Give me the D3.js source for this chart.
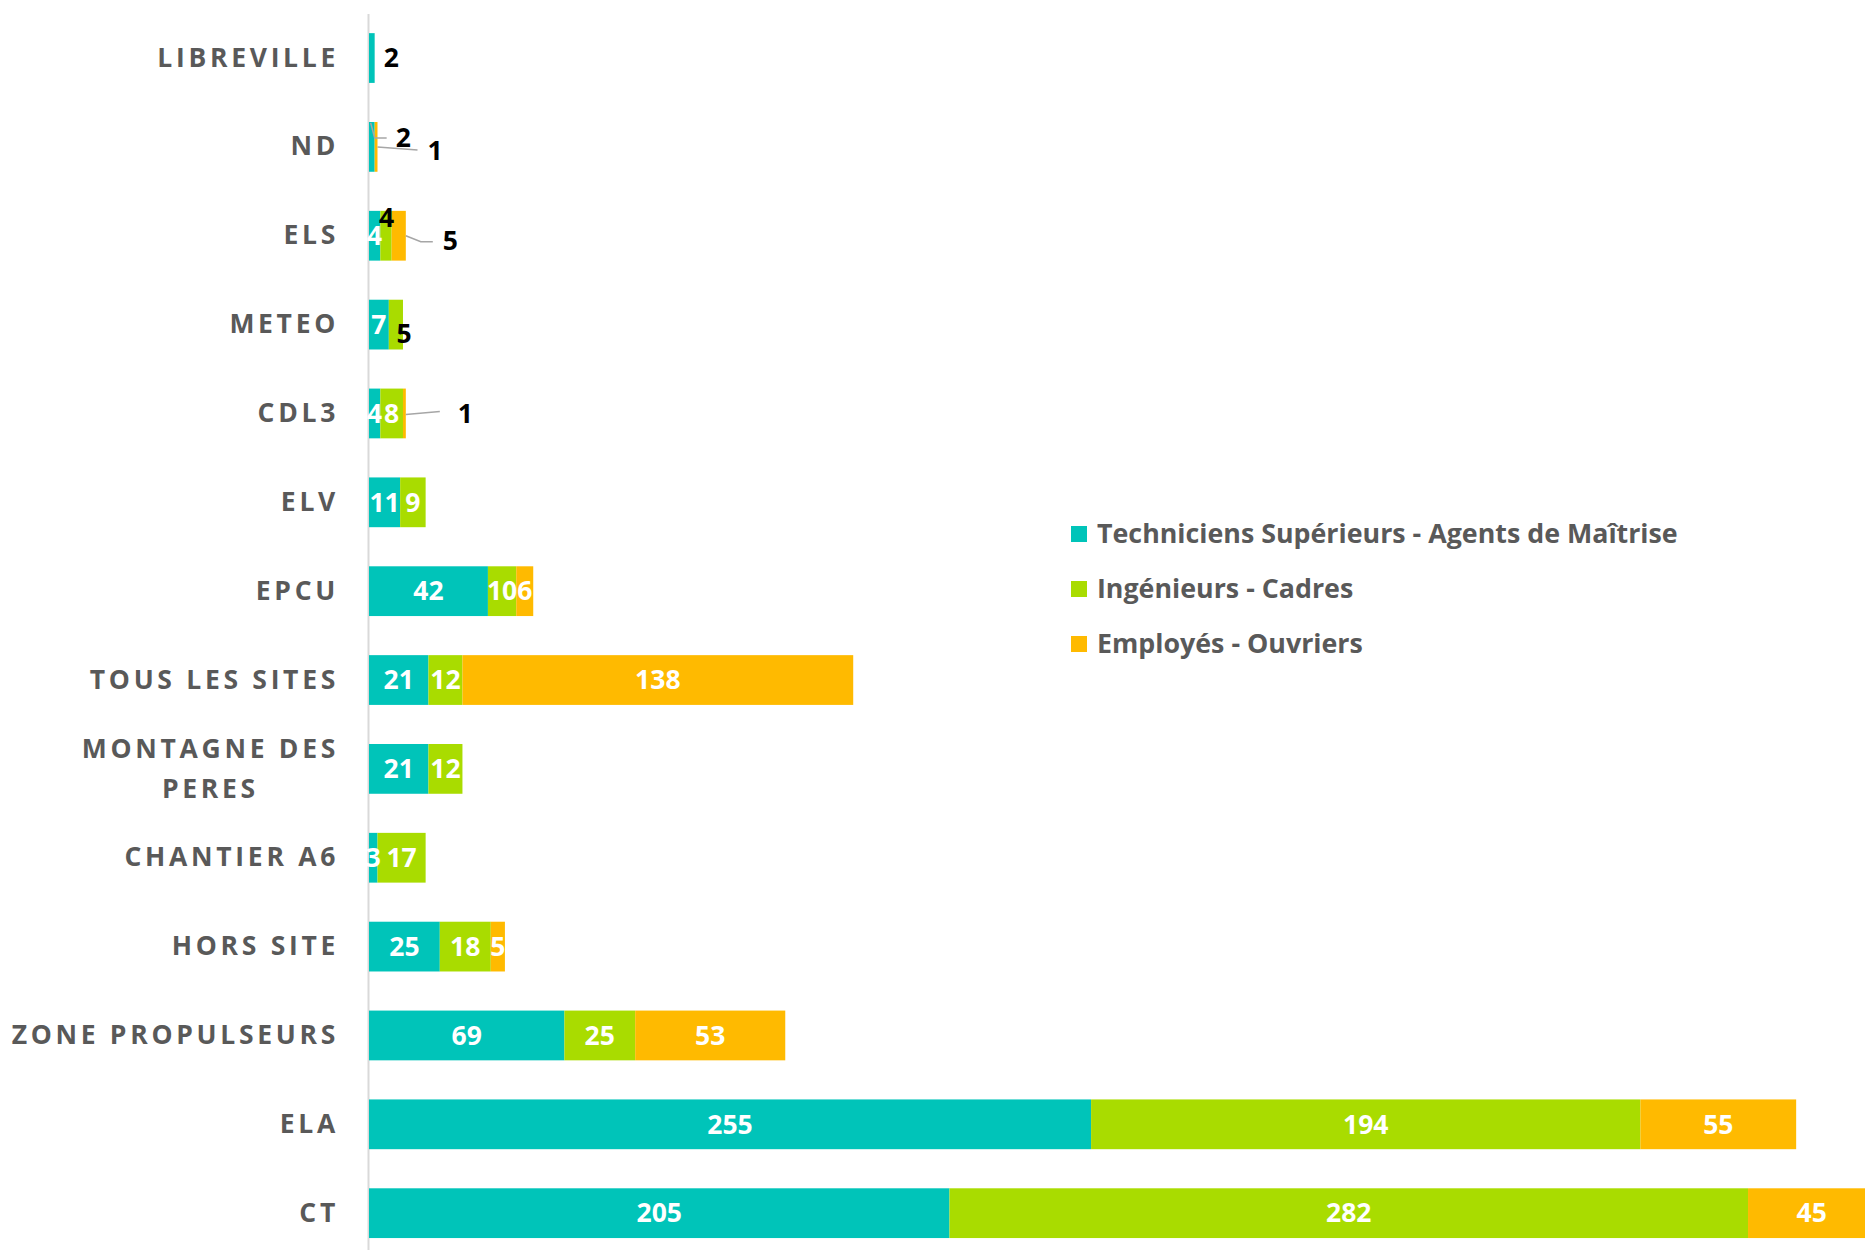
<!DOCTYPE html>
<html>
<head>
<meta charset="utf-8">
<script src="https://cdn.jsdelivr.net/npm/d3@7"></script>
<style>
  html, body { margin: 0; padding: 0; background: #fff; }
  svg { display: block; font-family: 'Open Sans', sans-serif; }
</style>
</head>
<body>
<svg id="chart" width="1865" height="1250"></svg>
<script>
const categories = ['LIBREVILLE', 'ND', 'ELS', 'METEO', 'CDL3', 'ELV', 'EPCU', 'TOUS LES SITES',
  'MONTAGNE DES PERES', 'CHANTIER A6', 'HORS SITE', 'ZONE PROPULSEURS', 'ELA', 'CT'];
const techniciens = [2, 2, 4, 7, 4, 11, 42, 21, 21, 3, 25, 69, 255, 205];
const ingenieurs = [0, 0, 4, 5, 8, 9, 10, 12, 12, 17, 18, 25, 194, 282];
const employes = [0, 1, 5, 0, 1, 0, 6, 138, 0, 0, 5, 53, 55, 45];
const seriesNames = ['Techniciens Supérieurs - Agents de Maîtrise', 'Ingénieurs - Cadres', 'Employés - Ouvriers'];
const colors = ['#00c4b9', '#a9dc00', '#ffba00'];

// labels that sit outside the bar, with optional leader line (offsets from the segment end)
const callouts = {
  'LIBREVILLE|0': { dx: 9, dy: 0 },
  'ND|0': { dx: 21, dy: -9, leader: [[-4, -24], [0, -9], [12, -9]] },
  'ND|2': { dx: 50, dy: 4, leader: [[0, 0], [40, 3]] },
  'ELS|1': { dx: -5, dy: -18, anchor: 'middle' },
  'ELS|2': { dx: 37, dy: 5, leader: [[0, 0], [15, 6], [27, 6]] },
  'METEO|1': { dx: 1, dy: 9, anchor: 'middle' },
  'CDL3|2': { dx: 52, dy: 0, leader: [[0, 1], [34, -2]] }
};

const rows = categories.map((c, i) => ({ cat: c, s0: techniciens[i], s1: ingenieurs[i], s2: employes[i] }));
const stack = d3.stack().keys(['s0', 's1', 's2'])(rows);

const svg = d3.select('#chart');

const x = d3.scaleLinear().domain([0, 600]).range([369, 2068]);
const y = d3.scaleBand().domain(categories).range([13.6, 1257.6])
  .paddingInner(0.44).paddingOuter(0.22);

// axis
const axis = svg.append('g')
  .attr('transform', 'translate(368,0)')
  .call(d3.axisLeft(y).tickSize(0).tickSizeOuter(0).tickPadding(29));
axis.select('.domain').attr('stroke', '#d9d9d9').attr('stroke-width', 2);
axis.selectAll('.tick text')
  .attr('fill', '#595959')
  .attr('font-size', 26.5)
  .attr('font-weight', 700)
  .attr('font-family', "'Open Sans', sans-serif")
  .style('letter-spacing', '3.7px')
  .each(function(d) {
    if (d === 'MONTAGNE DES PERES') {
      const t = d3.select(this);
      const xEnd = +t.attr('x');
      t.text(null);
      const l1 = t.append('tspan').attr('x', xEnd).attr('dy', '-0.4em').text('MONTAGNE DES');
      const w = l1.node().getComputedTextLength();
      t.append('tspan').attr('x', xEnd - w / 2).attr('dy', '1.5em')
        .attr('text-anchor', 'middle').text('PERES');
    }
  });

// bars
const layer = svg.append('g').selectAll('g')
  .data(stack)
  .join('g')
  .attr('fill', (d, i) => colors[i]);

layer.selectAll('rect')
  .data(d => d)
  .join('rect')
  .attr('x', d => x(d[0]))
  .attr('y', d => y(d.data.cat))
  .attr('width', d => x(d[1]) - x(d[0]))
  .attr('height', y.bandwidth());

// data labels
const labels = svg.append('g')
  .attr('font-size', 26.5)
  .attr('font-weight', 700);

stack.forEach((s, si) => {
  s.forEach(d => {
    const v = d[1] - d[0];
    if (v <= 0) return;
    const cat = d.data.cat;
    const yc = y(cat) + y.bandwidth() / 2;
    const co = callouts[cat + '|' + si];
    if (co) {
      const xe = x(d[1]);
      if (co.leader) {
        labels.append('path')
          .attr('d', d3.line()(co.leader.map(p => [xe + p[0], yc + p[1]])))
          .attr('fill', 'none')
          .attr('stroke', '#a6a6a6')
          .attr('stroke-width', 1.5);
      }
      labels.append('text')
        .attr('x', xe + co.dx)
        .attr('y', yc + co.dy)
        .attr('dy', '0.35em')
        .attr('text-anchor', co.anchor || 'start')
        .attr('fill', '#000')
        .text(v);
    } else {
      labels.append('text')
        .attr('x', (x(d[0]) + x(d[1])) / 2)
        .attr('y', yc)
        .attr('dy', '0.35em')
        .attr('text-anchor', 'middle')
        .attr('fill', '#fff')
        .text(v);
    }
  });
});

// legend
const legend = svg.append('g').attr('transform', 'translate(1071,534)');
const item = legend.selectAll('g')
  .data(seriesNames)
  .join('g')
  .attr('transform', (d, i) => `translate(0,${i * 55})`);
item.append('rect')
  .attr('y', -8)
  .attr('width', 16)
  .attr('height', 16)
  .attr('fill', (d, i) => colors[i]);
item.append('text')
  .attr('x', 26)
  .attr('dy', '0.35em')
  .attr('fill', '#595959')
  .attr('font-size', 26.8)
  .attr('font-weight', 700)
  .text(d => d);
</script>
</body>
</html>
